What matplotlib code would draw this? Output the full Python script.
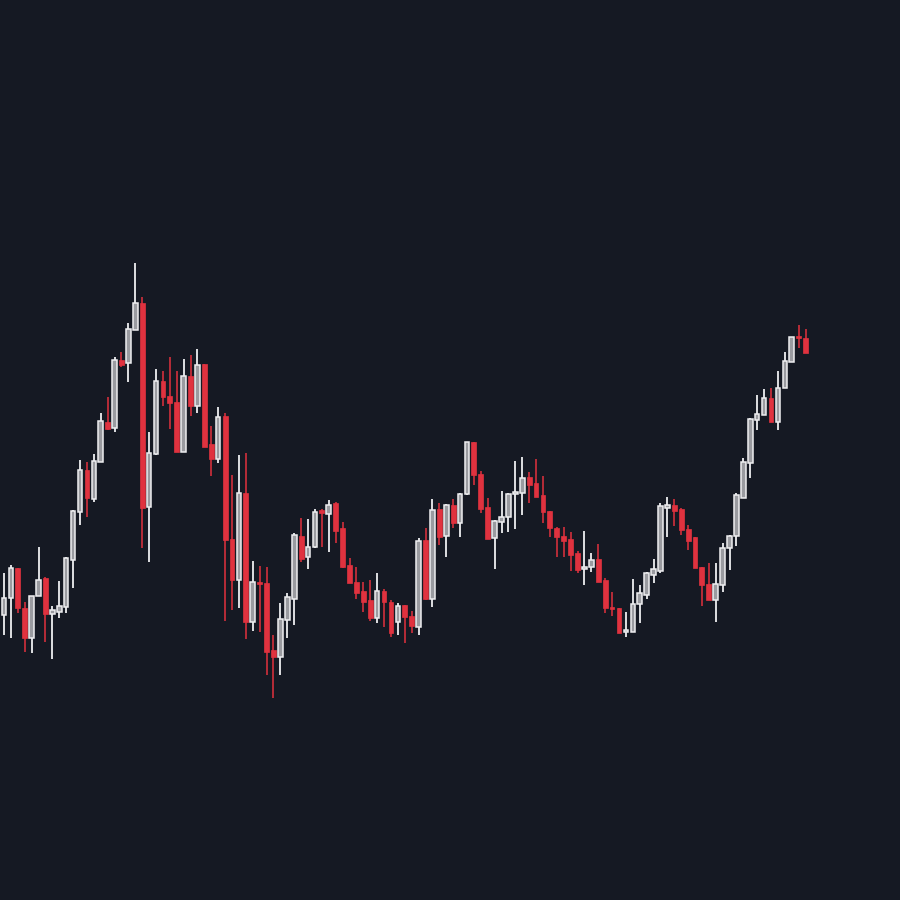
import numpy as np
import matplotlib
matplotlib.use("Agg")
import matplotlib.pyplot as plt

# OHLC values
opens = [285, 302, 332, 292, 262, 304, 322, 286, 288, 293, 340, 388, 430, 401, 438, 478, 472, 540, 537, 570,
         597, 393, 446, 519, 504, 498, 448, 524, 494, 536, 456, 441, 484, 361, 320, 407, 278, 318, 317, 250,
         243, 280, 301, 364, 343, 353, 390, 386, 397, 372, 335, 318, 309, 300, 282, 309, 298, 278, 295, 284,
         273, 360, 301, 391, 364, 395, 377, 406, 458, 426, 393, 362, 378, 383, 406, 407, 423, 417, 405, 389,
         372, 364, 361, 347, 331, 333, 341, 320, 293, 292, 268, 268, 296, 305, 325, 329, 392, 395, 391, 371,
         363, 333, 316, 300, 315, 352, 364, 402, 437, 480, 485, 502, 478, 512, 538, 564, 562]
highs = [327, 335, 332, 298, 304, 353, 323, 294, 319, 343, 390, 440, 438, 446, 487, 503, 543, 548, 577, 637,
         603, 468, 531, 529, 543, 529, 541, 545, 551, 536, 474, 493, 487, 425, 445, 447, 339, 334, 333, 265,
         297, 307, 367, 382, 381, 391, 391, 400, 398, 378, 342, 333, 318, 320, 327, 311, 300, 297, 295, 289,
         362, 372, 401, 397, 396, 401, 407, 458, 458, 429, 402, 380, 409, 407, 439, 443, 428, 441, 424, 389,
         373, 373, 368, 349, 369, 347, 356, 322, 308, 292, 288, 321, 315, 328, 341, 397, 403, 401, 392, 375,
         363, 333, 337, 337, 357, 365, 407, 442, 482, 505, 511, 512, 529, 548, 563, 575, 571]
lows = [265, 262, 287, 248, 247, 304, 258, 241, 282, 287, 312, 375, 383, 398, 438, 470, 468, 533, 518, 570,
        352, 338, 445, 494, 471, 448, 448, 484, 487, 453, 424, 437, 279, 290, 292, 261, 269, 268, 225, 202,
        225, 262, 275, 338, 331, 352, 353, 348, 357, 332, 317, 301, 288, 279, 277, 273, 263, 265, 257, 267,
        265, 300, 293, 355, 343, 372, 363, 405, 415, 387, 361, 331, 367, 368, 371, 385, 397, 403, 377, 363,
        343, 343, 329, 327, 315, 328, 318, 287, 284, 267, 263, 268, 277, 301, 317, 327, 363, 374, 365, 350,
        332, 294, 300, 278, 308, 330, 354, 402, 422, 470, 485, 478, 470, 512, 538, 552, 547]
closes = [302, 332, 292, 262, 304, 320, 286, 290, 294, 342, 389, 430, 402, 439, 479, 471, 540, 535, 571, 597,
          392, 447, 519, 503, 497, 448, 524, 494, 535, 453, 441, 483, 360, 320, 407, 278, 318, 316, 248, 243,
          281, 303, 365, 341, 353, 388, 387, 395, 369, 333, 317, 307, 298, 282, 309, 298, 267, 294, 283, 274,
          359, 301, 390, 363, 395, 377, 406, 458, 425, 391, 361, 379, 383, 406, 407, 422, 415, 403, 388, 372,
          363, 359, 345, 330, 333, 340, 318, 292, 291, 267, 270, 296, 307, 327, 331, 394, 395, 389, 370, 359,
          332, 315, 300, 316, 352, 364, 405, 438, 481, 486, 502, 478, 512, 539, 563, 562, 547]

bg = "#151923"
up_fill = "#9a9ba0"
up_edge = "#eeeef0"
down_col = "#e0323f"
down_wick = "#c42d3a"

o = np.array(opens)
h = np.array(highs)
l = np.array(lows)
c = np.array(closes)
x = np.arange(len(o))
up = c >= o

fig = plt.figure(figsize=(9, 9), dpi=100, facecolor=bg)
ax = fig.add_axes([0, 0, 1, 1])
ax.set_facecolor(bg)

# wicks
ax.vlines(x[up], l[up], h[up], color=up_edge, linewidth=1.3, zorder=1)
ax.vlines(x[~up], l[~up], h[~up], color=down_wick, linewidth=1.3, zorder=1)

# bodies
bottom = np.minimum(o, c)
height = np.maximum(np.abs(c - o), 2)
ax.bar(x[up], height[up], bottom=bottom[up], width=0.66, color=up_fill,
       edgecolor=up_edge, linewidth=1.1, zorder=2)
ax.bar(x[~up], height[~up], bottom=bottom[~up], width=0.7, color=down_col,
       edgecolor=down_col, linewidth=0.5, zorder=2)

step = 6.91
ax.set_xlim(-4 / step, (900 - 4) / step)
ax.set_ylim(0, 900)
ax.axis("off")

fig.savefig("out.png", dpi=100, facecolor=bg)
